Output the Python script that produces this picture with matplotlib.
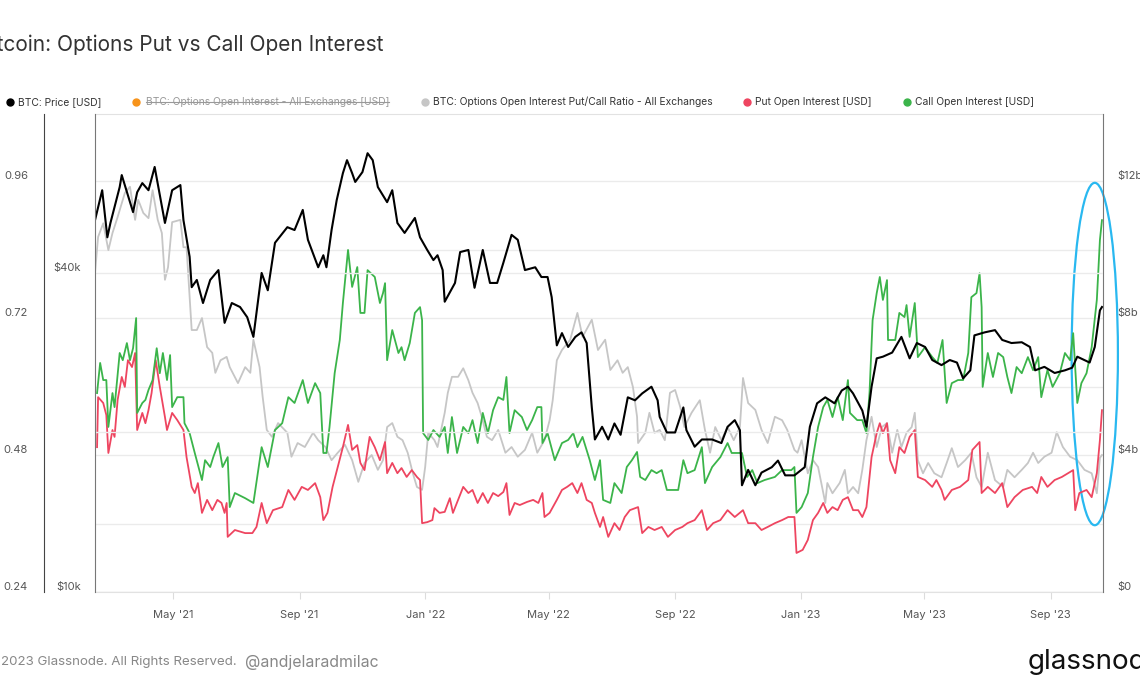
import matplotlib.pyplot as plt
import matplotlib.dates as mdates
from matplotlib.patches import Ellipse
from matplotlib.lines import Line2D
import numpy as np
import pandas as pd

plt.rcParams['font.family'] = ['Inter', 'DejaVu Sans']

start = pd.Timestamp('2021-02-14')

# BTC price, $k (days since start)
price_day = [0, 7, 12, 15, 24, 26, 32, 37, 41, 46, 52, 58, 63, 68, 75, 83, 86, 92, 94, 99,
             105, 112, 120, 126, 133, 141, 148, 154, 162, 168, 175, 187, 194, 202, 207, 217, 222, 225, 230, 235,
             241, 245, 250, 253, 260, 265, 270, 275, 284, 289, 294, 301, 311, 316, 323, 329, 333, 338, 340, 350,
             355, 363, 369, 377, 384, 391, 397, 405, 411, 418, 428, 434, 440, 444, 449, 454, 460, 467, 473, 478,
             483, 486, 493, 499, 505, 511, 518, 525, 532, 541, 547, 549, 556, 564, 572, 575, 583, 590, 600, 609,
             615, 622, 627, 629, 635, 642, 648, 658, 664, 671, 680, 690, 695, 702, 710, 719, 726, 732, 737, 746,
             750, 755, 760, 766, 775, 784, 792, 799, 807, 814, 823, 831, 838, 844, 851, 855, 865, 875, 882, 891,
             901, 909, 914, 923, 933, 943, 950, 955, 967, 972, 977, 979]
price_k = [50.3, 57.3, 46.7, 49.7, 58.1, 61.2, 56.1, 52.1, 56.8, 59.1, 57.3, 63.4, 56.1, 49.7, 57.3, 58.6, 50.3, 42.9, 37.6, 38.8,
           35.1, 38.8, 40.5, 32.2, 35.1, 34.5, 33.0, 30.3, 40.0, 37.1, 45.6, 48.8, 48.2, 52.6, 46.2, 41.0, 43.2, 41.0, 48.2, 54.9,
           61.7, 65.3, 61.7, 59.4, 62.0, 67.3, 65.3, 58.1, 54.4, 57.3, 49.7, 47.6, 50.8, 46.7, 44.2, 42.3, 43.2, 40.5, 35.3, 38.3,
           43.8, 44.2, 37.5, 44.2, 38.3, 38.3, 41.8, 47.2, 46.2, 40.5, 41.0, 39.3, 39.3, 36.0, 29.2, 30.8, 29.0, 30.3, 30.9, 29.5,
           22.3, 19.4, 20.5, 19.4, 20.8, 19.8, 23.3, 23.0, 23.7, 24.4, 23.0, 21.4, 20.0, 20.0, 22.3, 20.2, 18.8, 19.4, 19.4, 19.1,
           20.5, 21.1, 20.2, 15.9, 17.0, 15.9, 16.8, 17.2, 17.7, 16.6, 16.6, 17.2, 20.5, 22.7, 23.3, 22.7, 24.0, 24.4, 23.7, 22.0,
           20.5, 24.4, 27.6, 27.8, 28.3, 30.3, 27.6, 29.5, 29.0, 27.4, 26.8, 27.4, 27.1, 25.3, 26.2, 30.5, 30.9, 31.2, 29.9, 29.5,
           29.6, 29.0, 26.2, 26.6, 25.9, 26.2, 26.5, 27.8, 27.1, 29.0, 34.0, 34.5]

# Options open interest put/call ratio
ratio_day = [0, 3, 8, 13, 17, 22, 29, 34, 39, 42, 47, 52, 56, 61, 65, 68, 71, 75, 83, 86,
             89, 92, 94, 99, 104, 109, 114, 117, 122, 128, 131, 139, 146, 151, 154, 160, 163, 167, 172, 178,
             187, 191, 197, 204, 212, 217, 224, 230, 236, 243, 250, 256, 262, 269, 275, 280, 284, 289, 294, 299,
             304, 309, 313, 318, 321, 324, 330, 333, 340, 343, 347, 353, 358, 363, 367, 372, 376, 381, 386, 392,
             399, 405, 411, 418, 425, 430, 437, 442, 445, 449, 454, 462, 469, 474, 483, 489, 496, 501, 508, 513,
             518, 523, 527, 528, 535, 539, 544, 549, 554, 559, 564, 569, 573, 580, 588, 593, 598, 603, 609, 615,
             621, 627, 630, 635, 642, 648, 654, 661, 668, 673, 680, 683, 687, 693, 698, 703, 710, 712, 717, 724,
             729, 732, 737, 742, 746, 750, 755, 760, 765, 770, 775, 780, 784, 789, 794, 797, 800, 805, 810, 816,
             823, 828, 833, 839, 846, 852, 857, 862, 868, 875, 883, 887, 894, 901, 907, 912, 917, 923, 930, 935,
             941, 948, 955, 962, 969, 974, 977, 979]
ratio_val = [0.799, 0.862, 0.886, 0.839, 0.869, 0.897, 0.939, 0.950, 0.892, 0.927, 0.904, 0.895, 0.944, 0.892, 0.869, 0.787, 0.809, 0.888, 0.892, 0.844,
             0.844, 0.757, 0.699, 0.699, 0.720, 0.669, 0.659, 0.624, 0.646, 0.652, 0.634, 0.606, 0.634, 0.624, 0.682, 0.634, 0.582, 0.524, 0.512, 0.536,
             0.519, 0.477, 0.501, 0.494, 0.519, 0.506, 0.494, 0.471, 0.484, 0.498, 0.471, 0.433, 0.466, 0.480, 0.454, 0.471, 0.529, 0.536, 0.512, 0.506,
             0.484, 0.448, 0.424, 0.419, 0.459, 0.519, 0.506, 0.494, 0.554, 0.589, 0.617, 0.617, 0.632, 0.611, 0.589, 0.571, 0.547, 0.512, 0.506, 0.524,
             0.484, 0.494, 0.477, 0.489, 0.519, 0.484, 0.506, 0.541, 0.576, 0.646, 0.664, 0.682, 0.729, 0.687, 0.717, 0.664, 0.682, 0.629, 0.646, 0.624,
             0.634, 0.599, 0.547, 0.501, 0.519, 0.554, 0.519, 0.524, 0.506, 0.589, 0.594, 0.564, 0.529, 0.554, 0.576, 0.524, 0.484, 0.529, 0.506, 0.529,
             0.506, 0.529, 0.615, 0.571, 0.559, 0.524, 0.501, 0.547, 0.541, 0.524, 0.489, 0.484, 0.506, 0.448, 0.471, 0.459, 0.396, 0.431, 0.413, 0.431,
             0.454, 0.413, 0.424, 0.413, 0.454, 0.506, 0.547, 0.494, 0.529, 0.536, 0.484, 0.524, 0.494, 0.519, 0.529, 0.554, 0.471, 0.448, 0.466, 0.448,
             0.441, 0.466, 0.492, 0.459, 0.471, 0.484, 0.441, 0.424, 0.484, 0.436, 0.424, 0.454, 0.441, 0.454, 0.466, 0.484, 0.466, 0.477, 0.484, 0.520,
             0.494, 0.477, 0.471, 0.454, 0.448, 0.413, 0.475, 0.480]

# Put open interest, $bn
put_day = [2, 3, 8, 11, 13, 17, 19, 22, 26, 29, 32, 36, 39, 41, 46, 49, 52, 55, 59, 63,
           68, 70, 75, 80, 86, 89, 94, 97, 100, 104, 109, 114, 119, 123, 126, 128, 129, 136, 146, 153,
           157, 162, 167, 173, 182, 188, 194, 201, 207, 214, 219, 222, 226, 231, 236, 241, 246, 250, 255, 258,
           262, 267, 272, 277, 282, 284, 289, 294, 298, 303, 308, 313, 316, 318, 323, 328, 330, 335, 340, 345,
           348, 353, 358, 363, 367, 372, 377, 382, 387, 392, 397, 400, 403, 408, 413, 420, 426, 431, 435, 437,
           442, 449, 454, 459, 464, 469, 473, 478, 483, 486, 491, 494, 499, 505, 510, 515, 520, 528, 532, 538,
           544, 551, 557, 564, 571, 576, 583, 590, 595, 601, 608, 615, 622, 630, 635, 642, 648, 654, 661, 668,
           674, 680, 682, 688, 693, 698, 703, 708, 712, 717, 722, 727, 732, 737, 742, 746, 750, 755, 760, 763,
           766, 770, 773, 778, 782, 787, 792, 797, 800, 807, 814, 818, 823, 826, 833, 841, 849, 853, 860, 862,
           868, 875, 882, 887, 894, 902, 911, 916, 920, 926, 933, 940, 946, 951, 953, 957, 964, 969, 974, 977,
           979]
put_bn = [4.23, 5.69, 5.52, 5.17, 4.06, 4.73, 4.53, 5.61, 6.28, 5.99, 6.77, 6.57, 6.98, 4.73, 5.23, 4.93, 5.31, 5.81, 6.77, 5.99,
          5.11, 4.73, 5.23, 5.02, 4.73, 3.94, 3.07, 2.89, 3.18, 2.31, 2.69, 2.39, 2.69, 2.60, 2.31, 2.60, 1.61, 1.81, 1.72, 1.72,
          1.90, 2.60, 2.01, 2.39, 2.48, 2.98, 2.69, 3.07, 2.98, 3.18, 2.77, 2.10, 2.31, 3.07, 3.65, 4.23, 4.88, 4.15, 4.29, 3.77,
          3.56, 4.53, 4.23, 3.85, 4.38, 3.47, 3.77, 3.47, 3.62, 3.36, 3.56, 3.36, 3.27, 2.01, 2.04, 2.10, 2.45, 2.31, 2.34, 2.74,
          2.31, 2.69, 3.07, 2.89, 2.98, 2.60, 2.89, 2.60, 2.89, 2.80, 2.92, 3.18, 2.25, 2.60, 2.54, 2.63, 2.69, 2.60, 2.89, 2.19,
          2.31, 2.69, 2.98, 3.07, 3.18, 2.89, 3.18, 2.69, 2.60, 2.31, 1.90, 2.19, 1.61, 2.01, 1.81, 2.19, 2.39, 2.48, 1.72, 1.90,
          1.81, 1.90, 1.61, 1.81, 1.90, 2.01, 2.10, 2.39, 1.81, 2.01, 2.10, 2.39, 2.19, 2.39, 2.01, 2.01, 1.81, 1.90, 2.01, 2.10,
          2.19, 2.19, 1.14, 1.23, 1.52, 2.10, 2.31, 2.60, 2.31, 2.48, 2.39, 2.69, 2.77, 2.39, 2.39, 2.19, 2.48, 3.94, 4.64, 4.93,
          4.64, 4.93, 3.85, 3.47, 4.23, 4.06, 4.53, 4.73, 3.36, 3.27, 3.07, 3.27, 2.98, 2.69, 2.98, 3.07, 3.27, 4.15, 4.38, 2.89,
          3.07, 2.89, 3.18, 2.48, 2.77, 2.98, 3.07, 2.89, 3.36, 3.07, 3.27, 3.36, 3.47, 3.56, 2.39, 2.89, 2.98, 2.77, 3.47, 4.44,
          5.31]

# Call open interest, $bn
call_day = [2, 5, 8, 11, 13, 17, 19, 24, 27, 31, 34, 37, 40, 41, 46, 49, 52, 56, 60, 63,
            66, 70, 73, 75, 80, 86, 87, 92, 97, 104, 107, 112, 115, 120, 124, 129, 131, 136, 146, 154,
            162, 168, 175, 182, 188, 194, 202, 207, 214, 219, 222, 225, 228, 233, 238, 241, 246, 250, 255, 258,
            262, 265, 272, 277, 280, 282, 284, 289, 295, 298, 301, 306, 311, 316, 318, 319, 324, 329, 335, 340,
            343, 347, 352, 358, 363, 367, 372, 377, 382, 387, 392, 397, 400, 403, 408, 415, 420, 425, 430, 434,
            435, 440, 447, 454, 460, 465, 469, 474, 481, 486, 491, 494, 501, 505, 512, 517, 522, 527, 530, 535,
            541, 546, 551, 556, 562, 567, 572, 576, 583, 590, 593, 600, 608, 615, 619, 629, 634, 639, 644, 651,
            661, 668, 677, 680, 682, 687, 693, 698, 703, 708, 712, 717, 722, 727, 732, 734, 741, 746, 750, 753,
            756, 760, 763, 766, 770, 771, 778, 782, 787, 789, 792, 797, 800, 807, 814, 819, 824, 828, 833, 839,
            844, 849, 852, 857, 860, 862, 863, 868, 873, 878, 883, 887, 891, 896, 901, 907, 912, 917, 920, 926,
            931, 938, 943, 948, 951, 955, 959, 964, 969, 974, 977, 979]
call_bn = [5.81, 6.69, 6.19, 6.19, 4.82, 5.81, 5.40, 6.98, 6.77, 7.27, 6.77, 7.12, 8.00, 5.23, 5.52, 5.61, 5.90, 6.19, 7.12, 6.39,
           6.98, 6.19, 6.92, 5.40, 5.69, 5.69, 4.93, 4.64, 4.06, 3.27, 3.85, 3.65, 3.94, 4.35, 3.65, 3.94, 2.48, 2.89, 2.74, 2.60,
           4.23, 3.65, 4.73, 4.93, 5.69, 5.52, 6.19, 5.52, 6.10, 5.81, 4.06, 4.06, 4.82, 6.39, 7.36, 8.44, 9.99, 8.91, 9.49, 8.15,
           8.15, 9.40, 9.20, 8.44, 8.73, 9.02, 6.77, 7.65, 6.98, 7.15, 6.77, 7.27, 8.15, 8.32, 7.94, 4.64, 4.44, 4.73, 4.53, 4.82,
           4.06, 5.11, 4.06, 4.82, 4.64, 5.02, 4.35, 5.23, 4.64, 5.31, 5.69, 5.61, 6.28, 4.64, 5.31, 5.11, 4.73, 5.02, 5.40, 5.40,
           4.35, 4.64, 3.85, 4.35, 4.44, 4.64, 4.23, 4.53, 3.85, 3.27, 3.85, 2.69, 2.60, 3.18, 2.89, 3.65, 3.85, 4.09, 3.36, 3.27,
           3.56, 3.47, 3.56, 2.98, 2.98, 2.98, 3.85, 3.47, 3.56, 4.23, 3.18, 3.65, 3.94, 4.35, 4.06, 4.06, 3.36, 3.56, 3.18, 3.27,
           3.36, 3.56, 3.56, 3.65, 2.31, 2.48, 2.89, 3.94, 4.82, 5.40, 5.61, 5.11, 5.69, 5.02, 6.19, 5.23, 5.02, 5.02, 4.64, 5.81,
           7.94, 8.73, 9.20, 8.53, 9.11, 7.36, 7.36, 8.15, 8.03, 8.38, 7.45, 8.44, 6.86, 7.15, 6.86, 6.69, 7.36, 5.52, 6.10, 6.19,
           6.19, 6.98, 8.61, 8.73, 9.31, 8.32, 5.99, 6.98, 6.28, 6.98, 6.86, 6.28, 5.81, 6.57, 6.39, 6.86, 6.48, 6.86, 5.69, 6.48,
           5.99, 6.39, 6.98, 6.77, 7.56, 5.52, 6.10, 6.39, 7.15, 8.53, 10.28, 10.86]

def to_dates(days):
    return start + pd.to_timedelta(days, unit='D')

fig = plt.figure(figsize=(11.4, 6.94), dpi=100)
W, H = 1140, 694
PT = 72 / 100  # points per pixel
ax = fig.add_axes([95 / W, 1 - 592 / H, (1103 - 95) / W, (592 - 114) / H])

# ratio axis (outer left)
ax.plot(to_dates(ratio_day), ratio_val, color='#c6c6c6', lw=1.3)
ax.set_ylim(0.24, 1.0775)
ax.set_yticks(np.arange(0.24, 0.97, 0.12))
ax.set_yticklabels(['0.24', '', '0.48', '', '0.72', '', '0.96'])
ax.grid(axis='y', color='#ebebeb', lw=1)
ax.set_axisbelow(True)
ax.spines['left'].set_position(('outward', 51 * PT))
ax.spines['left'].set_color('#444')
ax.spines['right'].set_visible(False)
for s in ['top', 'bottom']:
    ax.spines[s].set_color('#e2e2e2')
ax.tick_params(axis='y', length=0, labelsize=8, labelcolor='#555', pad=16 * PT)
for lb in ax.get_yticklabels():
    lb.set_va('bottom')

# OI axis (right)
ax_oi = ax.twinx()
ax_oi.plot(to_dates(put_day), put_bn, color='#ee4560', lw=1.3)
ax_oi.plot(to_dates(call_day), call_bn, color='#3bb44a', lw=1.3)
ax_oi.set_ylim(0, 13.96)
ax_oi.set_yticks([0, 4, 8, 12])
ax_oi.set_yticklabels(['$0', '$4b', '$8b', '$12b'])
ax_oi.tick_params(axis='y', length=0, labelsize=8, labelcolor='#555', pad=14 * PT)
for lb in ax_oi.get_yticklabels():
    lb.set_va('bottom')
ax_oi.spines['right'].set_color('#777')
for s in ['left', 'top', 'bottom']:
    ax_oi.spines[s].set_visible(False)

# price axis (inner left, log)
ax_p = ax.twinx()
ax_p.plot(to_dates(price_day), np.array(price_k) * 1000, color='#000000', lw=1.5)
ax_p.set_yscale('log')
ax_p.set_ylim(10000, 79800)
ax_p.yaxis.tick_left()
ax_p.set_yticks([10000, 20000, 40000])
ax_p.set_yticklabels(['$10k', '', '$40k'])
ax_p.yaxis.set_minor_locator(plt.NullLocator())
ax_p.grid(axis='y', color='#ebebeb', lw=1)
ax_p.tick_params(axis='y', length=0, labelsize=8, labelcolor='#555', pad=14 * PT)
for lb in ax_p.get_yticklabels():
    lb.set_va('bottom')
ax_p.spines['left'].set_visible(True)
ax_p.spines['left'].set_color('#777')
for s in ['right', 'top', 'bottom']:
    ax_p.spines[s].set_visible(False)

# x axis
ax.set_xlim(start, start + pd.Timedelta(days=980))
ax.xaxis.set_major_locator(mdates.MonthLocator(bymonth=[1, 5, 9]))
ax.xaxis.set_major_formatter(mdates.DateFormatter("%b '%y"))
ax.tick_params(axis='x', length=5, color='#dcdcdc', labelsize=8, labelcolor='#555', pad=8)

# highlight ellipse
ell = Ellipse((mdates.date2num(start + pd.Timedelta(days=972)), 6.95), width=45, height=10.0,
              transform=ax_oi.transData, fill=False, edgecolor='#29b8f0', lw=1.6, clip_on=False)
ax_oi.add_patch(ell)

# title
fig.text(383 / W, 1 - 45 / H, 'Bitcoin: Options Put vs Call Open Interest', ha='right', va='center',
         fontsize=15, color='#333')

# legend
ly = 1 - 102 / H
legend_items = [
    (10, 18, '#000000', 'BTC: Price [USD]', '#333'),
    (136, 146, '#f7931a', 'BTC: Options Open Interest - All Exchanges [USD]', '#999'),
    (425, 433, '#c6c6c6', 'BTC: Options Open Interest Put/Call Ratio - All Exchanges', '#333'),
    (747, 755, '#ee4560', 'Put Open Interest [USD]', '#333'),
    (907, 915, '#3bb44a', 'Call Open Interest [USD]', '#333'),
]
for mx, tx, mc, label, tc in legend_items:
    fig.add_artist(Line2D([mx / W], [ly], marker='o', markersize=5, color=mc, lw=0, transform=fig.transFigure))
    t = fig.text(tx / W, ly, label, ha='left', va='center', fontsize=7.4, color=tc)
    if tc == '#999':
        fig.canvas.draw()
        bb = t.get_window_extent()
        fig.add_artist(Line2D([bb.x0 / W, bb.x1 / W], [ly, ly], color='#999', lw=0.8, transform=fig.transFigure))

# footer
fig.text(237 / W, 1 - 662 / H, '\u00a9 2023 Glassnode. All Rights Reserved.', ha='right', va='center',
         fontsize=9.6, color='#888')
fig.text(245 / W, 1 - 662 / H, '@andjelaradmilac', ha='left', va='center', fontsize=11.4, color='#888')
fig.text(1028 / W, 1 - 662 / H, 'glassnode', ha='left', va='center', fontsize=20, color='#111')

fig.savefig('out.png', dpi=100)
